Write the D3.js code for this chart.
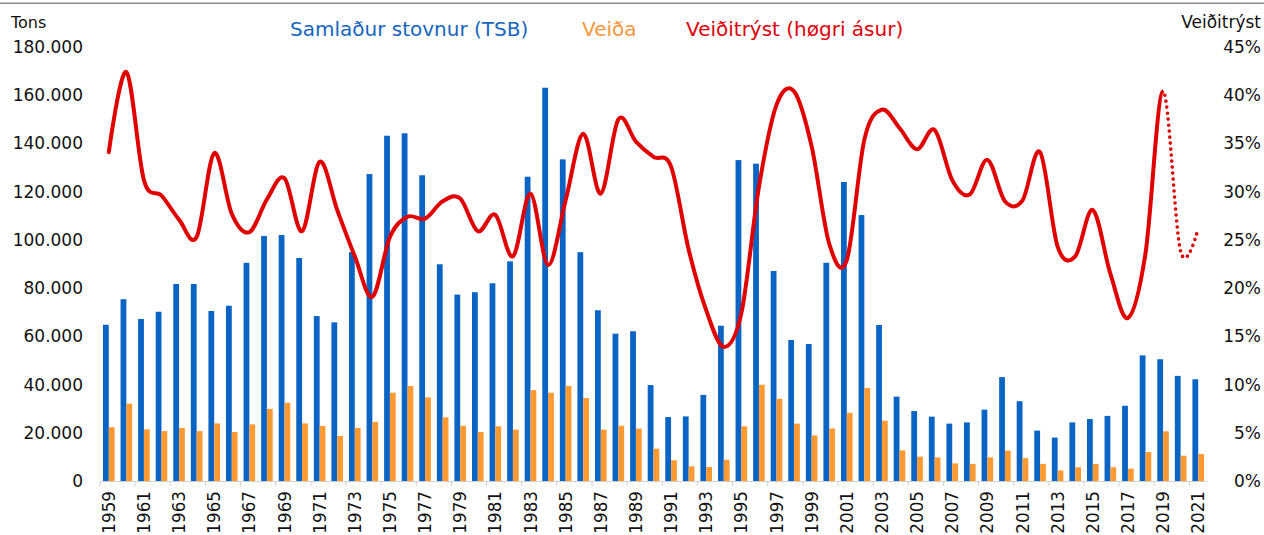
<!DOCTYPE html>
<html>
<head>
<meta charset="utf-8">
<script src="https://cdn.jsdelivr.net/npm/d3@7"></script>
<style>
  html, body { margin: 0; padding: 0; background: #fff; }
  svg { display: block; font-family: "DejaVu Sans", Verdana, sans-serif; }
</style>
</head>
<body>
<svg id="chart" width="1264" height="535"></svg>
<script>
// Years on the category axis
const years = [
  1959, 1960, 1961, 1962, 1963, 1964, 1965, 1966, 1967, 1968,
  1969, 1970, 1971, 1972, 1973, 1974, 1975, 1976, 1977, 1978,
  1979, 1980, 1981, 1982, 1983, 1984, 1985, 1986, 1987, 1988,
  1989, 1990, 1991, 1992, 1993, 1994, 1995, 1996, 1997, 1998,
  1999, 2000, 2001, 2002, 2003, 2004, 2005, 2006, 2007, 2008,
  2009, 2010, 2011, 2012, 2013, 2014, 2015, 2016, 2017, 2018,
  2019, 2020, 2021
];

// Total stock biomass (tons)
const tsb = [
  64800, 75400, 67200, 70200, 81700, 81700, 70500, 72700, 90500, 101600,
  102000, 92500, 68400, 65800, 94900, 127300, 143200, 144200, 126800, 89900,
  77300, 78300, 82000, 91100, 126200, 163100, 133400, 94900, 70800, 61100,
  62100, 39800, 26500, 26800, 35700, 64400, 133100, 131600, 87100, 58500,
  56800, 90500, 124000, 110300, 64700, 35000, 29000, 26700, 23800, 24300,
  29600, 43100, 33100, 20900, 18000, 24300, 25700, 27000, 31200, 52100,
  50500, 43600, 42200
];

// Catch (tons)
const catchTons = [
  22300, 32100, 21400, 20700, 22000, 20700, 23900, 20300, 23500, 29900,
  32400, 23900, 22800, 18700, 22000, 24500, 36600, 39400, 34700, 26400,
  22900, 20300, 22700, 21300, 37700, 36600, 39400, 34400, 21300, 22900,
  21700, 13400, 8600, 6100, 5800, 8800, 22700, 39900, 34100, 23800,
  18900, 21800, 28300, 38600, 25000, 12700, 10100, 9800, 7300, 7100,
  9800, 12600, 9500, 7100, 4400, 5700, 7100, 5700, 5100, 12000,
  20600, 10500, 11200
];

// Fishing pressure (right axis, fraction)
const pressure = [
  0.341, 0.424, 0.312, 0.296, 0.271, 0.253, 0.340, 0.277, 0.258, 0.292,
  0.314, 0.259, 0.331, 0.281, 0.233, 0.191, 0.253, 0.274, 0.272, 0.290,
  0.293, 0.259, 0.276, 0.233, 0.298, 0.224, 0.291, 0.360, 0.298, 0.375,
  0.352, 0.336, 0.326, 0.240, 0.177, 0.139, 0.174, 0.305, 0.390, 0.404,
  0.347, 0.246, 0.229, 0.354, 0.385, 0.366, 0.344, 0.364, 0.312, 0.297,
  0.333, 0.290, 0.291, 0.341, 0.243, 0.233, 0.281, 0.215, 0.169, 0.236,
  0.404, 0.238, 0.262
];
// Last year with a final (solid) estimate; later years are drawn dotted
const lastFinalYear = 2019;

// Axis ticks
const leftTicks = [0, 20000, 40000, 60000, 80000, 100000, 120000, 140000, 160000, 180000];
const rightTicks = [0, 0.05, 0.10, 0.15, 0.20, 0.25, 0.30, 0.35, 0.40, 0.45];
const yearTicks = years.filter(y => y % 2 === 1);

// Legend labels
const legendItems = [
  { label: "Samlaður stovnur (TSB)", color: "#1565C0" },
  { label: "Veiða", color: "#F7963A" },
  { label: "Veiðitrýst (høgri ásur)", color: "#E0000A" }
];

const colors = { tsb: "#0A64C4", catch: "#FF9A33", line: "#E00000" };

const svg = d3.select("#chart");
const W = 1264, H = 535;
const plot = { left: 100, right: 1207, top: 47, bottom: 481 };

const locale = d3.formatLocale({ decimal: ",", thousands: ".", grouping: [3], currency: ["", ""] });
const fmtTons = locale.format(",d");
const fmtPct = d3.format(".0%");

const x = d3.scaleBand().domain(years).range([plot.left, plot.right]).paddingInner(0).paddingOuter(0);
const bw = x.bandwidth();
const sub = d3.scaleBand().domain(["tsb", "catch"]).range([bw / 2 - 5.8, bw / 2 + 5.8]);
const yL = d3.scaleLinear().domain([0, 180000]).range([plot.bottom, plot.top]);
const yR = d3.scaleLinear().domain([0, 0.45]).range([plot.bottom, plot.top]);

// Thin rule at the very top
svg.append("line")
  .attr("x1", 0).attr("x2", W).attr("y1", 3.3).attr("y2", 3.3)
  .attr("stroke", "#8a8a8a").attr("stroke-width", 1.4);

// Bars
const rows = years.map((yr, i) => ({ year: yr, tsb: tsb[i], catch: catchTons[i], f: pressure[i] }));

svg.append("g").selectAll("rect")
  .data(rows).join("rect")
  .attr("x", d => x(d.year) + sub("tsb"))
  .attr("width", sub.bandwidth())
  .attr("y", d => yL(d.tsb))
  .attr("height", d => yL(0) - yL(d.tsb))
  .attr("fill", colors.tsb);

svg.append("g").selectAll("rect")
  .data(rows).join("rect")
  .attr("x", d => x(d.year) + sub("catch"))
  .attr("width", sub.bandwidth())
  .attr("y", d => yL(d.catch))
  .attr("height", d => yL(0) - yL(d.catch))
  .attr("fill", colors.catch);

// X axis
const xAxis = svg.append("g")
  .attr("transform", `translate(0,${plot.bottom})`)
  .call(d3.axisBottom(x).tickValues(yearTicks).tickSize(5).tickSizeOuter(0));
xAxis.select(".domain").attr("stroke", "#d0d0d0").attr("stroke-width", 1.2);
xAxis.selectAll(".tick line").attr("stroke", "#d0d0d0").attr("x1", -bw / 2).attr("x2", -bw / 2);
xAxis.selectAll(".tick text")
  .attr("transform", "rotate(-90)")
  .attr("x", -10).attr("y", 0).attr("dy", "0.36em")
  .attr("text-anchor", "end")
  .attr("fill", "#111")
  .style("font-size", "16.8px")
  .style("font-family", "'DejaVu Sans', Verdana, sans-serif");

// Left axis
const leftAxis = svg.append("g")
  .attr("transform", `translate(83,0)`)
  .call(d3.axisLeft(yL).tickValues(leftTicks).tickFormat(fmtTons).tickSize(0).tickPadding(0));
leftAxis.select(".domain").remove();
leftAxis.selectAll("text")
  .attr("fill", "#111")
  .style("font-size", "17px")
  .style("font-family", "'DejaVu Sans', Verdana, sans-serif");

// Right axis
const rightAxis = svg.append("g")
  .attr("transform", `translate(1261,0)`)
  .call(d3.axisRight(yR).tickValues(rightTicks).tickFormat(fmtPct).tickSize(0).tickPadding(0));
rightAxis.select(".domain").remove();
rightAxis.selectAll("text")
  .attr("x", 0)
  .attr("text-anchor", "end")
  .attr("fill", "#111")
  .style("font-size", "17px")
  .style("font-family", "'DejaVu Sans', Verdana, sans-serif");

// Axis titles
svg.append("text").attr("x", 11).attr("y", 28)
  .attr("fill", "#111").style("font-size", "16px").text("Tons");
svg.append("text").attr("x", 1261).attr("y", 28).attr("text-anchor", "end")
  .attr("fill", "#111").style("font-size", "17px").text("Veiðitrýst");

// Fishing pressure line (smoothed); solid up to the last final year, dotted after
const cx = d => x(d.year) + bw / 2;
const lineGen = d3.line().x(cx).y(d => yR(d.f)).curve(d3.curveCardinal.tension(0));
const splitX = cx(rows.find(d => d.year === lastFinalYear));

const defs = svg.append("defs");
defs.append("clipPath").attr("id", "clip-solid")
  .append("rect").attr("x", 0).attr("y", 0).attr("width", splitX).attr("height", H);
defs.append("clipPath").attr("id", "clip-dotted")
  .append("rect").attr("x", splitX).attr("y", 0).attr("width", W - splitX).attr("height", H);

svg.append("path")
  .attr("d", lineGen(rows))
  .attr("clip-path", "url(#clip-solid)")
  .attr("fill", "none").attr("stroke", colors.line)
  .attr("stroke-width", 4).attr("stroke-linejoin", "round").attr("stroke-linecap", "round");

const lastIdx = rows.findIndex(d => d.year === lastFinalYear);
svg.append("path")
  .attr("d", lineGen(rows.slice(lastIdx - 1)))
  .attr("clip-path", "url(#clip-dotted)")
  .attr("fill", "none").attr("stroke", colors.line)
  .attr("stroke-width", 3.6).attr("stroke-linecap", "round")
  .attr("stroke-dasharray", "0 6");

// Legend
const legendX = [290, 582, 686];
svg.append("g").selectAll("text")
  .data(legendItems).join("text")
  .attr("x", (d, i) => legendX[i])
  .attr("y", 36)
  .attr("fill", d => d.color)
  .style("font-size", "20px")
  .text(d => d.label);
</script>
</body>
</html>
